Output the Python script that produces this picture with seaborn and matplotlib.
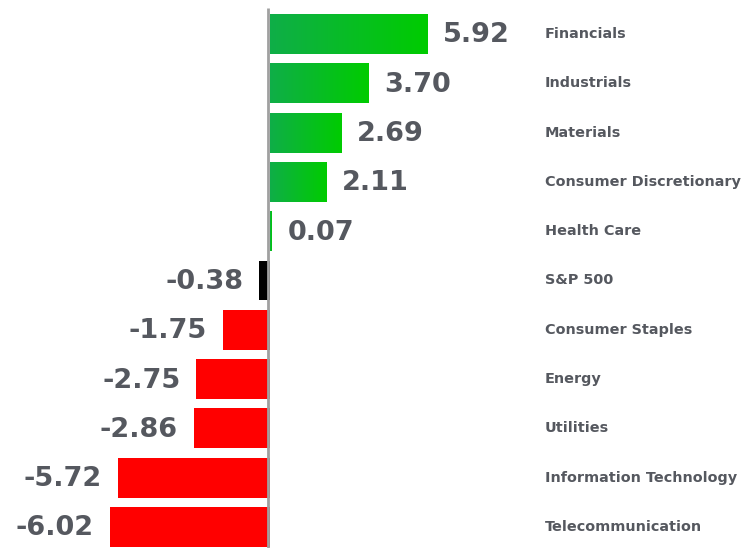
import numpy as np
import matplotlib
matplotlib.use("Agg")
import matplotlib.pyplot as plt
from matplotlib.colors import LinearSegmentedColormap
import seaborn as sns

sectors = ["Financials", "Industrials", "Materials", "Consumer Discretionary",
           "Health Care", "S&P 500", "Consumer Staples", "Energy", "Utilities",
           "Information Technology", "Telecommunication"]
returns = [5.92, 3.70, 2.69, 2.11, 0.07, -0.38, -1.75, -2.75, -2.86, -5.72, -6.02]
labels = ["5.92", "3.70", "2.69", "2.11", "0.07", "-0.38", "-1.75", "-2.75",
          "-2.86", "-5.72", "-6.02"]

GREEN = "#06bf2a"
RED = "#ff0000"
BLACK = "#000000"
TEXT = "#55585f"

colors = []
for name, v in zip(sectors, returns):
    if name == "S&P 500":
        colors.append(BLACK)
    elif v >= 0:
        colors.append(GREEN)
    else:
        colors.append(RED)

sns.set_style("white")
fig = plt.figure(figsize=(7.43, 5.48), dpi=100)
ax = fig.add_axes([0, 0, 1, 1])

sns.barplot(x=returns, y=sectors, hue=sectors, palette=colors, legend=False,
            orient="h", width=0.81, ax=ax, saturation=1, linewidth=0)

px_per_unit = 26.55
zero_px = 269.5
xlim = (-zero_px / px_per_unit, (743 - zero_px) / px_per_unit)
ylim = ((548 - 34) / 49.3, -34 / 49.3)

# horizontal green gradient on the positive bars
green_cmap = LinearSegmentedColormap.from_list("g", ["#0fae48", "#00cc00"])
grad = np.linspace(0, 1, 256).reshape(1, -1)
for patch, name, v in zip(ax.patches, sectors, returns):
    if v > 0 and name != "S&P 500":
        x0, y0 = patch.get_x(), patch.get_y()
        w, h = patch.get_width(), patch.get_height()
        im = ax.imshow(grad, cmap=green_cmap, aspect="auto",
                       extent=[x0, x0 + w, y0 + h, y0], zorder=patch.get_zorder() + 0.1)
        im.set_clip_path(patch)

ax.set_xlim(*xlim)
ax.set_ylim(*ylim)

# zero line
ax.vlines(-1.2 / px_per_unit, -0.53, 10.6, color="#a0a0a0", lw=2, zorder=1)

gap = 16 / px_per_unit
for i, (v, lab) in enumerate(zip(returns, labels)):
    if v >= 0:
        ax.text(v + gap, i + 0.03, lab, ha="left", va="center", fontsize=19.5,
                fontweight="heavy", color=TEXT, family="DejaVu Sans")
    else:
        ax.text(v - gap, i + 0.03, lab, ha="right", va="center", fontsize=19.5,
                fontweight="heavy", color=TEXT, family="DejaVu Sans")

label_x = (545 - zero_px) / px_per_unit
for i, name in enumerate(sectors):
    ax.text(label_x, i, name, ha="left", va="center", fontsize=10.4,
            fontweight="bold", color=TEXT, family="DejaVu Sans")

ax.set_axis_off()
fig.savefig("out.png", dpi=100)
